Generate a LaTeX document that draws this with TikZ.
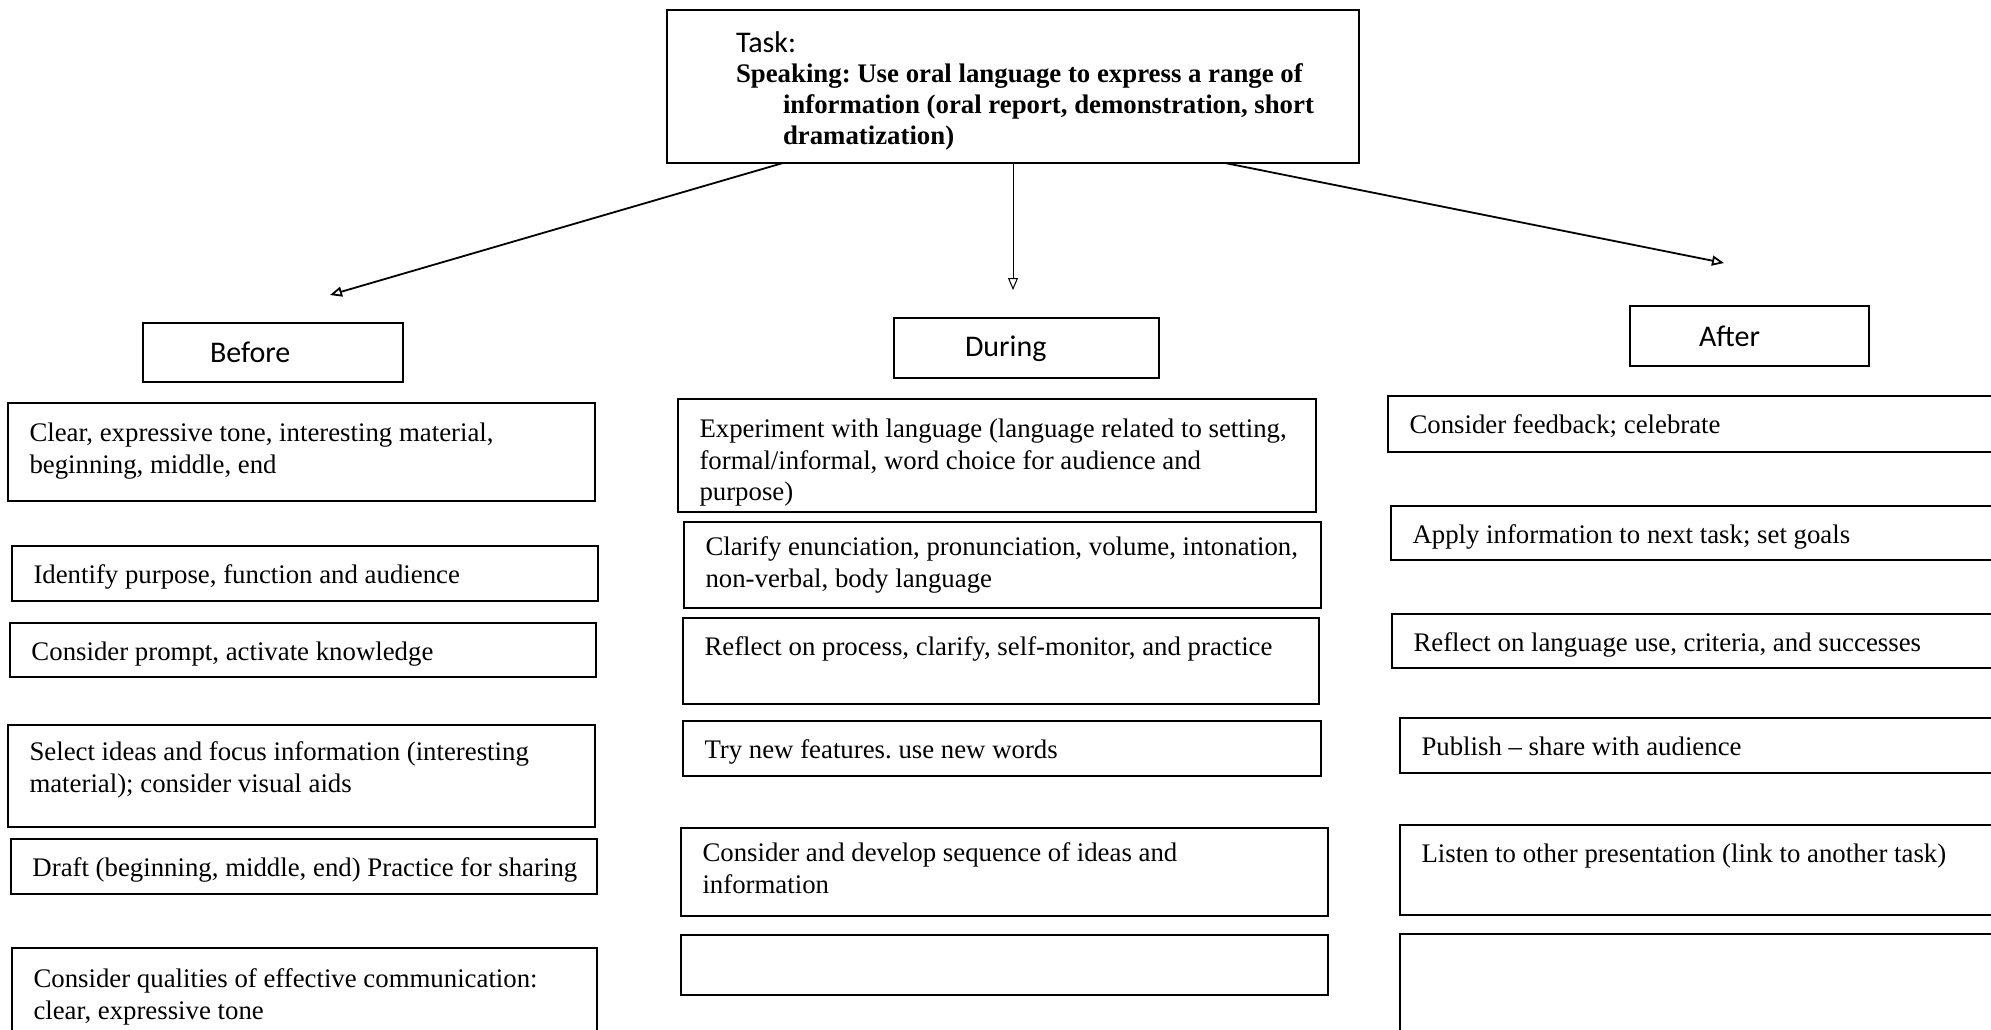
\documentclass[tikz,border=0pt]{standalone}
\usepackage{fontspec}
\setmainfont{Liberation Serif}
\newfontfamily\calib{Carlito}
\usetikzlibrary{arrows.meta}
\tikzset{
  boxst/.style={draw=black, line width=1pt, inner sep=0pt, outer sep=0pt, rectangle},
  txt/.style={inner sep=0pt, outer sep=0pt, align=left, font=\fontsize{13.4}{15.8}\selectfont, execute at begin node=\strut},
  head/.style={inner sep=0pt, outer sep=0pt, font=\calib\fontsize{15}{18}\selectfont},
  arr/.style={line width=0.9pt, -{Triangle[open, length=6pt, width=5pt]}},
}
\newcommand\mkbox[5]{\node[boxst, anchor=north west, minimum width={(#4-(#2))*0.5pt}, minimum height={(#5-(#3))*0.5pt}] (#1) at (#2,#3) {};}
\newcommand\mktext[4][0pt]{\node[txt, anchor=north west] (#2) at ([xshift=10.75pt, yshift=-7.5pt-#1]#3.north west) {#4};}
\begin{document}
\frenchspacing
\begin{tikzpicture}[x=0.5pt,y=-0.5pt]
\useasboundingbox (0,0) rectangle (1991,1029);
\clip (0,0) rectangle (1991,1029);
\fill[white] (0,0) rectangle (1991,1029);
% task
\mkbox{task}{667}{10}{1359}{163}
\node[head, anchor=base west] (tasklbl) at (736,52) {Task:};
\node[inner sep=0pt, outer sep=0pt, align=left, anchor=north west, font=\bfseries\fontsize{13.4}{15.4}\selectfont, execute at begin node=\strut] (tasktxt) at (736,64)
 {Speaking: Use oral language to express a range of\\\hspace*{23.5pt}information (oral report, demonstration, short\\\hspace*{23.5pt}dramatization)};
% headings
\mkbox{before}{143}{323}{403}{382}
\mkbox{during}{894}{318}{1159}{378}
\mkbox{after}{1630}{306}{1869}{366}
\node[head, anchor=base west] (beforet) at (210,362) {Before};
\node[head, anchor=base west] (duringt) at (965,356) {During};
\node[head, anchor=base west] (aftert) at (1699,346) {After};
% arrows
\coordinate (endB) at (330,295);
\coordinate (endD) at (1013,290);
\coordinate (endA) at (1724,263);
\draw[arr] ([xshift=58pt]task.south west) -- (endB);
\draw[arr, line width=0.5pt] ([xshift=173pt]task.south west) -- (endD);
\draw[arr] ([xshift=279pt]task.south west) -- (endA);
% left column
\mkbox{l1}{8}{403}{595}{501}
\mkbox{l2}{12}{546}{598}{601}
\mkbox{l3}{10}{623}{596}{677}
\mkbox{l4}{8}{725}{595}{827}
\mkbox{l5}{11}{839}{597}{894}
\mkbox{l6}{12}{948}{597}{1040}
\mktext[2.5pt]{l1t}{l1}{Clear, expressive tone, interesting material,\\beginning, middle, end}
\mktext{l2t}{l2}{Identify purpose, function and audience}
\mktext{l3t}{l3}{Consider prompt, activate knowledge}
\mktext[1pt]{l4t}{l4}{Select ideas and focus information (interesting\\material); consider visual aids}
\mktext{l5t}{l5}{Draft (beginning, middle, end) Practice for sharing}
\mktext[3pt]{l6t}{l6}{Consider qualities of effective communication:\\clear, expressive tone}
% middle column
\mkbox{m1}{678}{399}{1316}{512}
\mkbox{m2}{684}{522}{1321}{608}
\mkbox{m3}{683}{618}{1319}{704}
\mkbox{m4}{683}{721}{1321}{776}
\mkbox{m5}{681}{828}{1328}{916}
\mkbox{m6}{681}{935}{1328}{995}
\mktext[2.5pt]{m1t}{m1}{Experiment with language (language related to setting,\\formal/informal, word choice for audience and\\purpose)}
\mktext{m2t}{m2}{Clarify enunciation, pronunciation, volume, intonation,\\non-verbal, body language}
\mktext{m3t}{m3}{Reflect on process, clarify, self-monitor, and practice}
\mktext{m4t}{m4}{Try new features. use new words}
\mktext{m5t}{m5}{Consider and develop sequence of ideas and\\information}
% right column
\mkbox{r1}{1388}{396}{2010}{452}
\mkbox{r2}{1391}{506}{2010}{560}
\mkbox{r3}{1392}{614}{2010}{668}
\mkbox{r4}{1400}{718}{2010}{773}
\mkbox{r5}{1400}{825}{2010}{915}
\mkbox{r6}{1400}{934}{2010}{1040}
\mktext{r1t}{r1}{Consider feedback; celebrate}
\mktext{r2t}{r2}{Apply information to next task; set goals}
\mktext{r3t}{r3}{Reflect on language use, criteria, and successes}
\mktext{r4t}{r4}{Publish -- share with audience}
\mktext{r5t}{r5}{Listen to other presentation (link to another task)}
\end{tikzpicture}
\end{document}
